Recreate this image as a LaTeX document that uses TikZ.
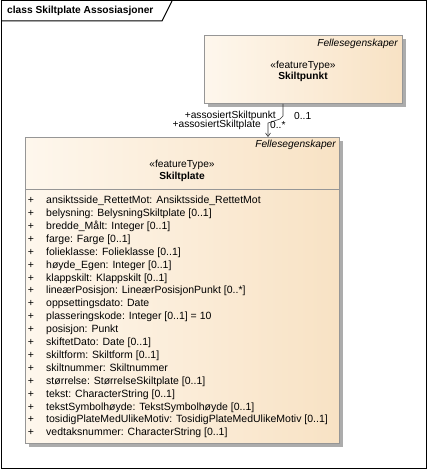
\documentclass[tikz,border=0pt]{standalone}
\usepackage{fontspec}
\setmainfont{Liberation Sans}
\usetikzlibrary{arrows.meta,shadows}
\definecolor{boxleft}{RGB}{254,247,237}
\definecolor{boxright}{RGB}{248,226,196}
\definecolor{boxborder}{RGB}{150,150,150}
\definecolor{shadowc}{RGB}{172,172,172}
\tikzset{
  umlbox/.style={draw=boxborder, line width=0.8pt, shading=axis, left color=boxleft, right color=boxright,
    rectangle, anchor=north west, inner sep=0pt,
    drop shadow={shadow xshift=4pt, shadow yshift=-4pt, fill=shadowc, opacity=1}},
  txt/.style={font=\fontsize{10.2}{12}\selectfont, inner sep=0pt},
  atxt/.style={font=\fontsize{10.5}{12}\selectfont, inner sep=0pt},
  itxt/.style={txt, font=\fontsize{10.2}{12}\selectfont\itshape},
  btxt/.style={txt, font=\fontsize{10.2}{12}\selectfont\bfseries},
  assoc/.style={draw=black!80, line width=0.6pt},
}
\begin{document}
\begin{tikzpicture}[x=1pt,y=-1pt]
\useasboundingbox (0,0) rectangle (428,470);
% frame
\draw[line width=1pt] (1,1) rectangle (426,468);
\draw[line width=1pt] (1,21) -- (162,21) -- (172,1);
\node[btxt, anchor=west] (title) at (7,11) {class Skiltplate Assosiasjoner};

% Skiltpunkt
\node[umlbox, minimum width=198pt, minimum height=68pt] (sp) at (204,35) {};
\node[itxt, anchor=east] (spf) at (398,44) {Fellesegenskaper};
\node[txt] (sps) at (303,66) {«featureType»};
\node[btxt] (spn) at (303,77) {Skiltpunkt};

% Skiltplate
\node[umlbox, minimum width=314pt, minimum height=306pt] (pl) at (25,137) {};
\node[itxt, anchor=east] (plf) at (336,145) {Fellesegenskaper};
\node[txt] (pls) at (182,165) {«featureType»};
\node[btxt] (pln) at (182,177) {Skiltplate};
\draw[draw=boxborder, line width=0.8pt] (pl.west |- 0,189) coordinate (sepw) -- (pl.east |- sepw);

\foreach \t [count=\i from 0] in {
 ansiktsside\_RettetMot: Ansiktsside\_RettetMot,
 belysning: BelysningSkiltplate [0..1],
 bredde\_Målt: Integer [0..1],
 farge: Farge [0..1],
 folieklasse: Folieklasse [0..1],
 høyde\_Egen: Integer [0..1],
 klappskilt: Klappskilt [0..1],
 lineærPosisjon: LineærPosisjonPunkt [0..*],
 oppsettingsdato: Date,
 plasseringskode: Integer [0..1] = 10,
 posisjon: Punkt,
 skiftetDato: Date [0..1],
 skiltform: Skiltform [0..1],
 skiltnummer: Skiltnummer,
 størrelse: StørrelseSkiltplate [0..1],
 tekst: CharacterString [0..1],
 tekstSymbolhøyde: TekstSymbolhøyde [0..1],
 tosidigPlateMedUlikeMotiv: TosidigPlateMedUlikeMotiv [0..1],
 vedtaksnummer: CharacterString [0..1]}
{
  \node[atxt, anchor=base] (plus\i) at (31,{203.6+12.9*\i}) {+};
  \node[atxt, anchor=base west] (attr\i) at (46,{203.6+12.9*\i}) {\t};
}

% association
\coordinate (b1) at (283,116);
\coordinate (b2) at (280,119);
\coordinate (b3) at (268,123);
\draw[assoc, -{Straight Barb[length=3.5pt,width=5pt]}] (b1 |- sp.south) -- (b1) -- (b2) -- (b3) -- (b3 |- pl.north);
\node[txt, anchor=east] (r1) at (276,116) {+assosiertSkiltpunkt};
\node[txt, anchor=west] (m1) at (294,116) {0..1};
\node[txt, anchor=east] (r2) at (261,125) {+assosiertSkiltplate};
\node[txt, anchor=west] (m2) at (270,125) {0..*};
\end{tikzpicture}
\end{document}
